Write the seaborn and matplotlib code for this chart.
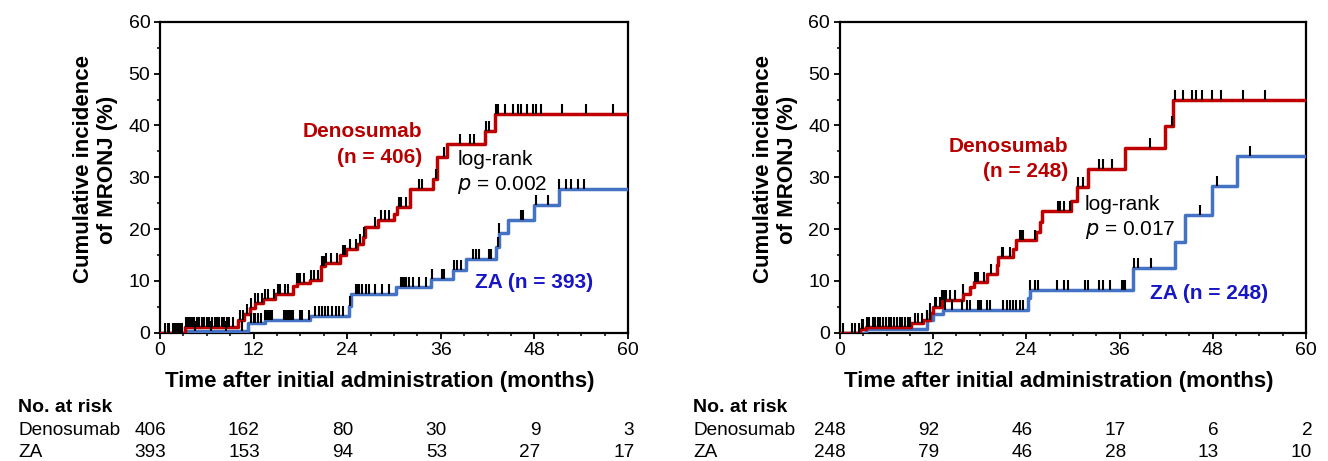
import numpy as np
import matplotlib
matplotlib.use("Agg")
import matplotlib.pyplot as plt
import matplotlib.transforms as mtransforms
from matplotlib.ticker import MultipleLocator
import seaborn as sns

sns.set_style("ticks")
plt.rcParams['font.family'] = ['Liberation Sans', 'DejaVu Sans']
plt.rcParams['text.color'] = 'black'
plt.rcParams['axes.labelcolor'] = 'black'
plt.rcParams['xtick.color'] = 'black'
plt.rcParams['ytick.color'] = 'black'

RED = '#C00000'
BLUE = '#4472C4'
RED_TXT = '#B80000'
BLUE_TXT = '#1616C4'

# ---- data: left panel (all patients) ----
den1_t = [0, 3.2, 10.0, 10.8, 11.5, 12.2, 13.2, 14.7, 17.1, 17.6, 19.2, 20.6, 21.2, 23.1, 23.8,
          25.3, 26.0, 26.3, 28.0, 30.0, 30.4, 32.1, 35.0, 35.5, 36.8, 41.7, 43.0]
den1_y = [0, 1.0, 2.5, 3.6, 4.7, 5.7, 6.5, 7.5, 8.9, 9.5, 10.1, 12.8, 13.5, 15.0, 16.1,
          17.2, 18.5, 20.3, 21.7, 22.9, 24.2, 27.8, 29.7, 34.0, 36.4, 39.0, 42.2]
za1_t = [0, 3.3, 11.3, 13.5, 19.2, 24.2, 24.5, 30.3, 34.8, 37.6, 39.2, 43.1, 43.4, 44.6, 48.0, 51.2]
za1_y = [0, 0.3, 1.8, 2.5, 3.1, 5.2, 7.5, 8.8, 10.3, 12.1, 14.2, 16.6, 19.2, 21.8, 24.7, 27.7]

den1_cens = [0.6, 1.1, 1.6, 1.9, 2.3, 2.6, 2.8, 3.3, 3.6, 3.9, 4.1, 4.4, 4.7, 5.0, 5.4, 5.7,
             6.0, 6.3, 6.6, 7.0, 7.3, 7.6, 7.9, 8.2, 8.6, 8.9, 9.4, 10.3, 10.7, 11.1, 11.6,
             12.2, 12.6, 13.1, 13.4, 13.9, 14.6, 15.1, 15.4, 16.0, 16.4, 17.6, 17.8, 18.0,
             18.4, 19.3, 19.7, 20.2, 20.8, 21.0, 21.3, 21.9, 22.7, 23.4, 23.7, 24.3, 25.1,
             25.6, 26.2, 27.6, 28.3, 28.8, 29.4, 30.6, 30.9, 31.5, 33.2, 33.6, 35.4, 36.4,
             38.4, 39.8, 40.3, 41.8, 42.2, 43.1, 43.3, 44.2, 45.2, 45.9, 46.3, 47.1, 47.8,
             48.2, 48.8, 51.6, 54.6, 58.1]
za1_cens = [1.0, 2.0, 4.5, 6.5, 8.5, 10.5, 11.6, 12.0, 12.2, 12.6, 12.9, 13.5, 13.7, 13.9,
            14.1, 14.4, 15.9, 16.1, 16.3, 16.5, 16.7, 16.9, 17.1, 18.0, 18.2, 19.1, 19.9,
            20.4, 20.8, 21.2, 21.6, 22.1, 22.5, 22.9, 23.4, 24.4, 25.1, 25.3, 25.5, 25.9,
            26.4, 26.8, 27.6, 28.5, 29.4, 30.9, 31.1, 31.3, 31.5, 31.9, 32.4, 33.2, 34.1,
            34.9, 36.2, 36.4, 37.7, 38.1, 38.6, 40.1, 40.5, 40.9, 42.2, 42.4, 43.3, 43.5,
            46.3, 46.5, 48.2, 49.7, 51.2, 52.1, 52.7, 53.6, 54.4]

# ---- data: right panel (matched) ----
den2_t = [0, 2.6, 3.4, 9.2, 10.7, 11.6, 12.0, 13.1, 15.9, 16.7, 17.3, 18.9, 20.2, 20.4, 22.3,
          22.7, 25.3, 25.7, 26.0, 29.8, 30.5, 32.0, 36.7, 41.8, 42.9]
den2_y = [0, 0.6, 1.0, 1.8, 2.4, 3.8, 5.0, 6.2, 7.4, 8.8, 9.8, 11.4, 13.0, 14.6, 16.2,
          17.8, 19.4, 21.3, 23.5, 25.5, 28.2, 31.6, 35.6, 39.9, 44.9]
za2_t = [0, 3.4, 11.2, 12.0, 13.3, 24.2, 24.5, 37.7, 43.1, 44.4, 47.9, 51.1]
za2_y = [0, 0.6, 2.4, 3.6, 4.4, 6.6, 8.3, 12.4, 17.5, 22.8, 28.3, 34.2]

den2_cens = [0.4, 1.5, 1.9, 2.4, 2.8, 3.0, 3.5, 3.8, 4.2, 4.5, 4.9, 5.2, 5.6, 5.9, 6.3, 6.6,
             7.0, 7.3, 7.7, 8.0, 8.4, 8.7, 9.0, 9.7, 10.1, 10.5, 11.2, 11.6, 12.2, 12.4,
             12.9, 13.1, 13.3, 13.5, 13.7, 14.2, 14.8, 15.9, 17.4, 17.6, 17.8, 18.5, 19.5,
             20.8, 21.0, 21.9, 23.2, 23.4, 23.6, 25.1, 28.1, 28.3, 28.8, 29.6, 30.7, 31.3,
             33.3, 33.9, 35.0, 39.9, 42.7, 43.1, 44.2, 45.3, 45.9, 46.6, 47.9, 49.1, 51.9, 54.7]
za2_cens = [11.2, 11.6, 13.5, 14.4, 15.7, 16.3, 16.7, 17.8, 18.0, 18.2, 18.9, 19.3, 21.0,
            21.5, 21.9, 22.3, 22.7, 23.2, 23.6, 24.5, 25.1, 25.5, 27.9, 28.8, 29.4, 31.5,
            32.0, 33.3, 33.9, 34.8, 36.3, 36.5, 36.7, 37.8, 38.4, 40.1, 46.4, 48.5, 52.8]

risk_times = [0, 12, 24, 36, 48, 60]
risk1_den = [406, 162, 80, 30, 9, 3]
risk1_za = [393, 153, 94, 53, 27, 17]
risk2_den = [248, 92, 46, 17, 6, 2]
risk2_za = [248, 79, 46, 28, 13, 10]


def draw_curve(ax, t, y, cens, color):
    xs = list(t) + [60]
    ys = list(y) + [y[-1]]
    sns.lineplot(x=xs, y=ys, drawstyle='steps-post', estimator=None, sort=False,
                 color=color, lw=2.5, ax=ax, zorder=3)
    idx = np.searchsorted(np.array(t), np.array(cens), side='right') - 1
    cy = np.array(y)[idx]
    sns.scatterplot(x=cens, y=cy, marker=2, s=48, color='black', linewidth=1.5,
                    ax=ax, zorder=4)


def style_axes(ax):
    ax.set_xlim(0, 60)
    ax.set_ylim(0, 60)
    ax.xaxis.set_major_locator(MultipleLocator(12))
    ax.xaxis.set_minor_locator(MultipleLocator(3))
    ax.yaxis.set_major_locator(MultipleLocator(10))
    ax.yaxis.set_minor_locator(MultipleLocator(5))
    ax.tick_params(which='major', length=4, width=1.3, labelsize=14, pad=3)
    ax.tick_params(which='minor', length=2.5, width=1.1)
    for sp in ax.spines.values():
        sp.set_visible(True)
        sp.set_linewidth(1.6)
        sp.set_color('black')
    ax.set_xlabel('Time after initial administration (months)', fontsize=16,
                  fontweight='bold')
    ax.set_ylabel('Cumulative incidence\nof MRONJ (%)', fontsize=16, fontweight='bold')


def risk_table(fig, ax, x0, den, za):
    tr = mtransforms.blended_transform_factory(ax.transData, fig.transFigure)
    fig.text(x0, 0.115, 'No. at risk', fontsize=14, fontweight='bold', va='center')
    fig.text(x0, 0.067, 'Denosumab', fontsize=13.7, va='center')
    fig.text(x0, 0.019, 'ZA', fontsize=13.7, va='center')
    for tm, a, b in zip(risk_times, den, za):
        ax.text(tm + 0.8, 0.067, str(a), transform=tr, ha='right', va='center',
                fontsize=13.7, clip_on=False)
        ax.text(tm + 0.8, 0.019, str(b), transform=tr, ha='right', va='center',
                fontsize=13.7, clip_on=False)


fig = plt.figure(figsize=(13.28, 4.61), dpi=100)
ax1 = fig.add_axes([0.1205, 0.2787, 0.3524, 0.6736])
ax2 = fig.add_axes([0.6325, 0.2787, 0.3509, 0.6736])

# left panel
draw_curve(ax1, za1_t, za1_y, za1_cens, BLUE)
draw_curve(ax1, den1_t, den1_y, den1_cens, RED)
style_axes(ax1)
ax1.text(33.6, 38.8, 'Denosumab', color=RED_TXT, fontsize=15, fontweight='bold',
         ha='right', va='center')
ax1.text(33.6, 33.8, '(n = 406)', color=RED_TXT, fontsize=15, fontweight='bold',
         ha='right', va='center')
ax1.text(38.1, 33.4, 'log-rank', fontsize=15, ha='left', va='center')
ax1.text(38.1, 28.6, r'$\it{p}$ = 0.002', fontsize=15, ha='left', va='center')
ax1.text(40.4, 9.7, 'ZA (n = 393)', color=BLUE_TXT, fontsize=15, fontweight='bold',
         ha='left', va='center')

# right panel
draw_curve(ax2, za2_t, za2_y, za2_cens, BLUE)
draw_curve(ax2, den2_t, den2_y, den2_cens, RED)
style_axes(ax2)
ax2.text(29.4, 35.9, 'Denosumab', color=RED_TXT, fontsize=15, fontweight='bold',
         ha='right', va='center')
ax2.text(29.4, 31.2, '(n = 248)', color=RED_TXT, fontsize=15, fontweight='bold',
         ha='right', va='center')
ax2.text(31.5, 24.7, 'log-rank', fontsize=15, ha='left', va='center')
ax2.text(31.5, 19.9, r'$\it{p}$ = 0.017', fontsize=15, ha='left', va='center')
ax2.text(39.9, 7.6, 'ZA (n = 248)', color=BLUE_TXT, fontsize=15, fontweight='bold',
         ha='left', va='center')

for ax in (ax1, ax2):
    ax.xaxis.set_label_coords(0.47, -0.125)
    ax.yaxis.set_label_coords(-0.09, 0.525)

risk_table(fig, ax1, 18 / 1328, risk1_den, risk1_za)
risk_table(fig, ax2, 693 / 1328, risk2_den, risk2_za)

fig.savefig('out.png', dpi=100)
